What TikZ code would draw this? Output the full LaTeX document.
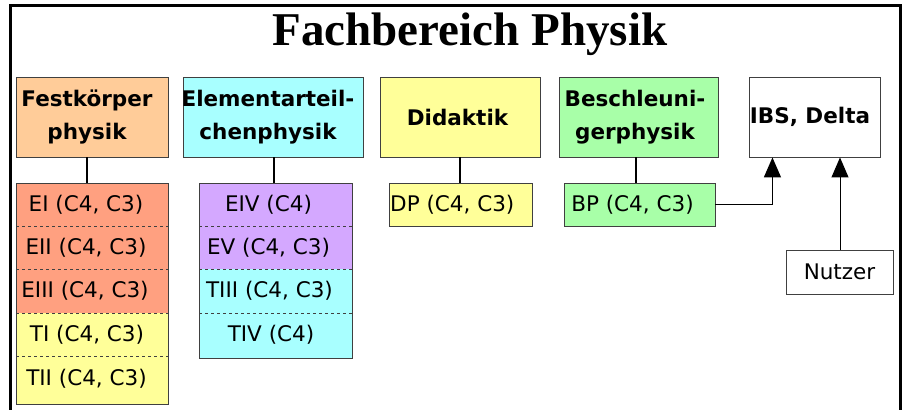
\documentclass[tikz,border=0pt]{standalone}
\usepackage{fontspec}
\setmainfont{DejaVu Sans}
\newfontfamily\titlefont{Liberation Serif}
\usetikzlibrary{arrows.meta}

\definecolor{peach}{HTML}{FFCC99}
\definecolor{salmon}{HTML}{FFA080}
\definecolor{paleyellow}{HTML}{FFFF99}
\definecolor{palecyan}{HTML}{A8FFFF}
\definecolor{lilac}{HTML}{D4A8FF}
\definecolor{palegreen}{HTML}{A8FFA8}
\definecolor{edge}{HTML}{404040}

\tikzset{
  header/.style={draw=edge, line width=0.9pt, inner sep=0pt},
  headtext/.style={align=center, font=\fontsize{21.5}{33}\selectfont\bfseries},
  unitbox/.style={draw=edge, line width=0.9pt, inner sep=0pt},
  rowtext/.style={inner sep=0pt, font=\fontsize{21.5}{24}\selectfont},
  divider/.style={edge, line width=0.9pt, dash pattern=on 3pt off 3pt},
  link/.style={line width=2pt},
  feed/.style={line width=1.5pt, -{Triangle[length=20pt,width=17pt]}},
}

\begin{document}
\begin{tikzpicture}[x=1pt,y=-1pt]
\useasboundingbox (0,0) rectangle (906,410);

% outer frame, open at the bottom
\draw[line width=3pt] (10.5,412) -- (10.5,5.5) -- (900.5,5.5) -- (900.5,412);

% title
\node[anchor=base, font=\titlefont\fontsize{47}{50}\selectfont\bfseries] (title) at (470,45) {Fachbereich Physik};

% --- Festkörperphysik column
\path[fill=salmon] (16,183) rectangle (168,313);
\path[fill=paleyellow] (16,313) rectangle (168,404);
\draw[divider] (16,226) -- (168,226);
\draw[divider] (16,269) -- (168,269);
\draw[divider] (16,313) -- (168,313);
\draw[divider] (16,356) -- (168,356);
\node[draw=edge, line width=0.9pt, minimum width=152pt, minimum height=221pt, inner sep=0pt] (fkcol) at (92,293.5) {};
\node[rowtext] (ei)   at (86,205)   {EI (C4, C3)};
\node[rowtext] (eii)  at (86,248)   {EII (C4, C3)};
\node[rowtext] (eiii) at (85,291)   {EIII (C4, C3)};
\node[rowtext] (ti)   at (87,334.5) {TI (C4, C3)};
\node[rowtext] (tii)  at (86.5,379) {TII (C4, C3)};
\node[header, fill=peach, minimum width=152pt, minimum height=80pt] (fk) at (92,117) {};
\node[headtext] (fkt) at (87,117) {Festkörper\\physik};

% --- Elementarteilchenphysik column
\path[fill=lilac] (199,183) rectangle (352,269);
\path[fill=palecyan] (199,269) rectangle (352,358);
\draw[divider] (199,226) -- (352,226);
\draw[divider] (199,269) -- (352,269);
\draw[divider] (199,313) -- (352,313);
\node[draw=edge, line width=0.9pt, minimum width=153pt, minimum height=175pt, inner sep=0pt] (etcol) at (275.5,270.5) {};
\node[rowtext] (eiv)  at (268.5,205)   {EIV (C4)};
\node[rowtext] (ev)   at (268.5,248)   {EV (C4, C3)};
\node[rowtext] (tiii) at (269.5,291)   {TIII (C4, C3)};
\node[rowtext] (tiv)  at (271,335)     {TIV (C4)};
\node[header, fill=palecyan, minimum width=180pt, minimum height=80pt] (et) at (273,117) {};
\node[headtext] (ett) at (268,117) {Elementarteil-\\chenphysik};

% --- Didaktik
\node[header, fill=paleyellow, minimum width=160pt, minimum height=80pt] (did) at (460,117) {};
\node[headtext] (didt) at (457.5,117) {Didaktik};
\node[unitbox, fill=paleyellow, minimum width=143pt, minimum height=43pt] (dp) at (460.5,204.5) {};
\node[rowtext, anchor=west] (dpt) at (390,205) {DP (C4, C3)};

% --- Beschleunigerphysik
\node[header, fill=palegreen, minimum width=159pt, minimum height=80pt] (bes) at (638.5,117) {};
\node[headtext] (best) at (635,117) {Beschleuni-\\gerphysik};
\node[unitbox, fill=palegreen, minimum width=151pt, minimum height=43pt] (bp) at (639.5,204.5) {};
\node[rowtext] (bpt) at (632.5,205) {BP (C4, C3)};

% --- IBS, Delta and users
\node[header, fill=white, minimum width=131pt, minimum height=80pt] (ibs) at (814.5,117) {};
\node[headtext] (ibst) at (810,117) {IBS, Delta};
\node[unitbox, fill=white, minimum width=107pt, minimum height=44pt] (nutzer) at (840,272) {};
\node[rowtext] (nutzert) at (839.5,272) {Nutzer};

% connectors
\draw[link] ([xshift=-5pt]fk.south) -- ([xshift=-5pt]fk.south |- fkcol.north);
\draw[link] ([xshift=1pt]et.south) -- ([xshift=1pt]et.south |- etcol.north);
\draw[link] (did.south) -- (did.south |- dp.north);
\draw[link] ([xshift=-2.5pt]bes.south) -- ([xshift=-2.5pt]bes.south |- bp.north);
\coordinate (bend) at ([xshift=57pt]bp.east);
\draw[feed] (bp.east) -- (bend) -- (bend |- ibs.south);
\draw[feed, line width=1pt] (nutzer.north) -- (nutzer.north |- ibs.south);
\end{tikzpicture}
\end{document}
